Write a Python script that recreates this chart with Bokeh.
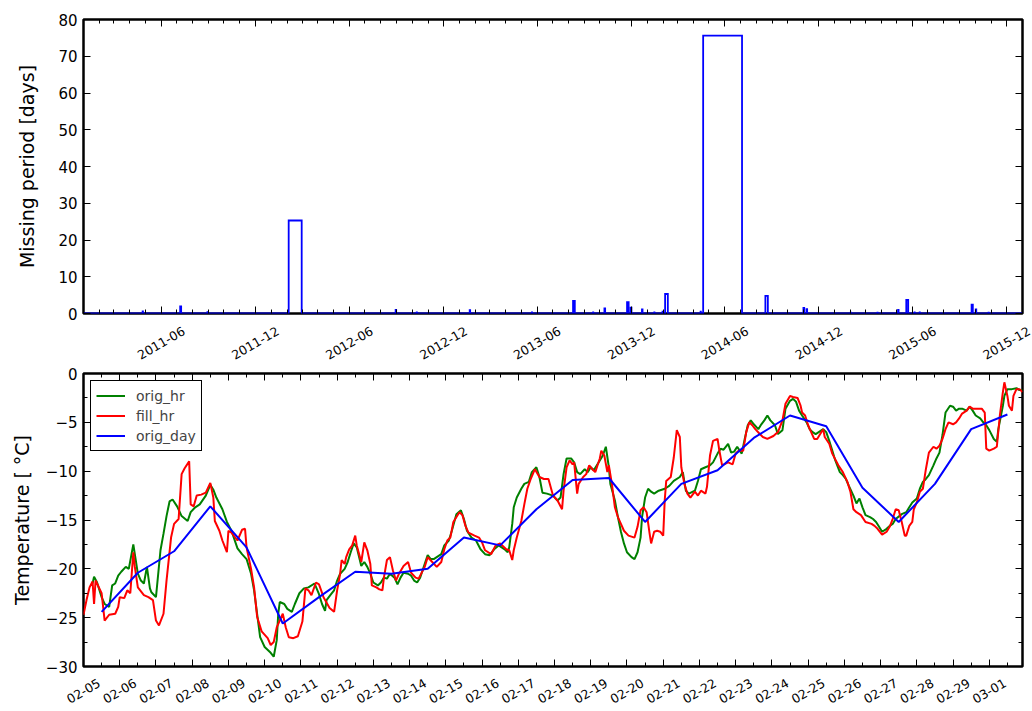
import pandas as pd
from bokeh.plotting import figure
from bokeh.models import (Range1d, FixedTicker, LinearAxis, Legend, LegendItem)
from bokeh.core.properties import value
from bokeh.layouts import column
from bokeh.embed import file_html
from bokeh.resources import INLINE

FONT = "DejaVu Sans"

# ---------------- top panel: missing periods ----------------
top_x_start, top_x_end = "2011-01-01", "2016-01-01"
gap_start = ["2011-04-26", "2011-07-08", "2011-08-30", "2012-02-04", "2012-08-30",
             "2012-10-10", "2013-01-21", "2013-05-22", "2013-08-10", "2013-09-18",
             "2013-10-10", "2013-11-23", "2013-11-30", "2013-12-22", "2014-01-15",
             "2014-01-31", "2014-02-05", "2014-04-15", "2014-04-20", "2014-08-19",
             "2014-11-01", "2014-11-07", "2015-02-01", "2015-03-25", "2015-05-04",
             "2015-05-20", "2015-06-05", "2015-06-15", "2015-09-24", "2015-10-02",
             "2015-10-27"]
gap_days = [0.6, 1.9, 0.4, 25.3, 1.0, 0.3, 0.9, 0.3, 3.4, 0.3, 1.4, 3.1, 1.6, 1.1, 0.3,
            0.5, 5.3, 0.5, 75.6, 4.8, 1.5, 1.2, 0.2, 0.2, 1.0, 3.7, 0.3, 0.3, 2.4, 1.1, 0.2]
top_tick_labels = ["2011-06", "2011-12", "2012-06", "2012-12", "2013-06",
                   "2013-12", "2014-06", "2014-12", "2015-06", "2015-12"]
top_y_ticks = [0, 10, 20, 30, 40, 50, 60, 70, 80]

# ---------------- bottom panel: temperature ----------------
year = "2016"
t0 = "2016-02-05 00:00"
orig_hr_hours = [6, 7, 9, 12, 14, 17, 19, 21, 23, 25, 28, 30, 33, 34, 36, 38, 40, 42, 44, 45, 48,
                 51, 53, 55, 57, 59, 62, 65, 69, 71, 74, 77, 81, 84, 86, 88, 92, 95, 98, 102, 105,
                 108, 111, 113, 115, 117, 120, 124, 126, 128, 129, 130, 133, 135, 138, 140, 143,
                 146, 149, 153, 156, 158, 160, 161, 164, 166, 168, 170, 173, 175, 177, 179, 181,
                 184, 186, 188, 190, 192, 195, 197, 199, 201, 203, 206, 208, 210, 212, 215, 217,
                 219, 221, 223, 226, 228, 230, 232, 234, 237, 239, 242, 244, 247, 250, 252, 254,
                 257, 260, 263, 266, 269, 272, 275, 279, 281, 282, 284, 285, 287, 290, 292, 295,
                 297, 300, 302, 304, 307, 311, 314, 316, 318, 320, 323, 325, 327, 329, 332, 334,
                 336, 338, 342, 344, 346, 348, 349, 352, 354, 356, 358, 360, 363, 365, 367, 369,
                 370, 372, 374, 376, 378, 381, 385, 388, 391, 395, 397, 399, 401, 405, 407, 409,
                 412, 415, 417, 420, 422, 424, 427, 429, 431, 433, 436, 438, 440, 442, 444, 447,
                 449, 451, 453, 455, 458, 460, 463, 465, 468, 470, 472, 474, 476, 479, 481, 483,
                 485, 487, 490, 492, 494, 496, 498, 501, 503, 505, 507, 510, 512, 514, 516, 518,
                 521, 523, 525, 527, 529, 532, 534, 536, 538, 542, 545, 547, 549, 552, 554, 556,
                 558, 560, 563, 565, 567, 569, 571, 574, 576, 578, 580, 582, 585, 587, 589, 591,
                 594, 596, 598, 600, 603, 605, 606, 609, 610, 612, 615, 618, 620, 622]
orig_hr_temp = [-21.5, -20.8, -21.4, -22.9, -23.6, -23.9, -21.7, -21.5, -20.7, -20.3, -19.8, -20.0,
                -17.5, -18.5, -20.5, -21.2, -21.5, -19.8, -22.0, -22.4, -22.9, -18.1, -16.4, -14.6,
                -13.1, -12.9, -13.6, -14.6, -15.1, -14.2, -13.7, -13.4, -12.5, -11.4, -11.9, -12.7,
                -13.9, -15.2, -16.1, -17.9, -18.5, -19.0, -20.5, -22.2, -24.6, -27.0, -28.0, -28.6,
                -29.0, -27.3, -24.6, -23.4, -23.6, -24.1, -24.4, -23.6, -22.5, -22.0, -21.9, -21.5,
                -22.6, -23.6, -24.3, -23.2, -22.6, -22.2, -21.2, -20.5, -20.0, -19.3, -18.3, -17.4,
                -17.8, -19.7, -19.3, -19.8, -20.5, -21.4, -21.7, -21.4, -20.9, -21.0, -20.5, -20.9,
                -21.6, -20.9, -20.4, -20.5, -20.7, -21.2, -21.4, -20.9, -19.5, -18.6, -19.0, -19.0,
                -18.8, -18.5, -17.6, -17.1, -16.1, -14.4, -14.0, -14.9, -16.1, -16.8, -17.1, -18.0,
                -18.5, -18.6, -18.0, -17.6, -18.0, -18.3, -17.8, -15.4, -13.7, -12.7, -11.8, -11.3,
                -11.1, -10.1, -9.6, -10.6, -12.2, -12.3, -12.5, -13.0, -12.7, -10.3, -8.7, -8.7,
                -9.1, -10.1, -10.3, -9.8, -10.1, -9.6, -9.9, -8.9, -8.4, -7.5, -9.6, -11.3, -13.0,
                -14.7, -16.2, -17.4, -18.3, -18.8, -19.0, -18.3, -16.8, -14.7, -12.7, -11.8, -12.1,
                -12.3, -12.0, -11.8, -11.5, -11.0, -10.6, -10.1, -12.0, -12.3, -12.0, -11.0, -9.8,
                -9.6, -9.4, -9.1, -8.2, -7.7, -7.8, -7.2, -8.1, -8.0, -7.5, -8.2, -6.7, -5.3, -4.8,
                -5.2, -5.7, -5.2, -4.8, -4.3, -4.8, -5.3, -6.2, -5.8, -3.6, -2.8, -2.6, -2.9, -3.8,
                -4.3, -5.0, -5.7, -6.0, -6.2, -6.0, -5.7, -6.0, -6.9, -7.9, -8.9, -10.1, -10.4,
                -10.8, -11.5, -12.5, -13.3, -12.8, -13.7, -14.5, -14.7, -14.9, -15.2, -15.7, -16.2,
                -15.9, -15.6, -15.4, -14.9, -14.4, -14.2, -13.7, -13.2, -12.8, -11.8, -11.1, -10.8,
                -10.4, -9.4, -8.7, -8.1, -6.3, -4.0, -3.3, -3.4, -3.8, -3.6, -3.6, -3.8, -3.4, -3.8,
                -4.3, -4.6, -5.0, -5.3, -5.8, -6.7, -7.0, -5.7, -3.3, -2.3, -1.6, -1.6, -1.5, -1.7,
                -1.7]
fill_hr_hours = [0, 2, 4, 6, 7, 8, 12, 14, 17, 21, 23, 24, 27, 29, 31, 33, 34, 36, 40, 43, 46, 48,
                 50, 53, 55, 58, 60, 63, 65, 67, 70, 71, 73, 75, 78, 81, 84, 86, 87, 90, 92, 95, 96,
                 98, 102, 105, 107, 108, 111, 113, 115, 118, 122, 124, 126, 128, 132, 134, 136, 139,
                 142, 145, 147, 149, 151, 154, 156, 159, 163, 166, 168, 170, 171, 173, 174, 176,
                 178, 180, 181, 184, 186, 188, 190, 191, 194, 196, 198, 199, 201, 203, 205, 207,
                 209, 212, 215, 217, 220, 222, 226, 228, 231, 234, 237, 239, 241, 243, 245, 249,
                 251, 253, 255, 259, 262, 264, 266, 270, 273, 276, 280, 282, 284, 285, 287, 290,
                 292, 294, 296, 299, 302, 305, 308, 311, 314, 317, 318, 320, 322, 324, 325, 327,
                 328, 331, 333, 335, 337, 339, 342, 343, 345, 347, 348, 350, 352, 354, 356, 358,
                 361, 365, 367, 369, 371, 373, 375, 376, 378, 380, 382, 384, 385, 386, 389, 391,
                 393, 395, 396, 398, 400, 402, 405, 407, 409, 412, 413, 415, 417, 420, 421, 423,
                 427, 430, 432, 434, 437, 439, 441, 443, 445, 448, 450, 453, 457, 460, 463, 465,
                 468, 470, 473, 475, 476, 478, 480, 482, 484, 486, 488, 490, 491, 494, 496, 500,
                 503, 506, 508, 510, 512, 515, 518, 522, 524, 526, 529, 532, 534, 536, 538, 540,
                 542, 544, 545, 547, 549, 550, 552, 554, 556, 558, 560, 563, 565, 567, 569, 571,
                 573, 576, 578, 580, 582, 585, 587, 589, 592, 595, 597, 598, 600, 603, 605, 607,
                 609, 610, 612, 613, 615, 616, 618, 620, 622]
fill_hr_temp = [-24.7, -23.2, -21.9, -21.3, -23.6, -21.2, -22.5, -25.3, -24.7, -24.6, -23.9, -22.9,
                -23.0, -22.2, -22.5, -18.3, -19.8, -21.9, -22.7, -22.9, -23.2, -25.3, -25.8, -24.6,
                -21.2, -16.8, -15.4, -14.9, -10.3, -9.7, -9.0, -13.4, -13.6, -12.5, -12.4, -12.2,
                -11.2, -12.7, -15.1, -16.1, -17.1, -18.3, -16.1, -16.3, -17.1, -16.0, -15.9, -17.8,
                -20.0, -21.9, -24.9, -26.4, -27.1, -27.8, -27.5, -26.0, -24.6, -26.0, -27.0, -27.1,
                -26.9, -25.4, -22.0, -22.2, -22.7, -21.4, -21.6, -22.9, -24.0, -24.4, -22.2, -20.5,
                -19.1, -19.5, -18.8, -18.0, -17.6, -16.6, -17.6, -19.3, -17.3, -18.1, -19.5, -21.7,
                -21.9, -22.1, -22.2, -20.9, -19.1, -18.8, -20.2, -21.2, -20.5, -19.7, -19.3, -20.4,
                -20.9, -21.0, -19.8, -18.8, -19.3, -19.8, -19.3, -18.0, -17.1, -16.8, -15.2, -14.2,
                -14.5, -15.6, -16.3, -16.6, -16.8, -17.3, -18.1, -18.5, -17.6, -17.4, -18.0, -18.1,
                -19.1, -18.1, -16.8, -15.1, -13.4, -11.8, -10.9, -9.8, -10.6, -10.8, -10.8, -12.5,
                -13.0, -13.9, -12.0, -9.6, -8.9, -9.3, -9.1, -12.3, -11.3, -10.6, -10.3, -9.4, -9.8,
                -10.1, -8.7, -7.9, -8.4, -10.1, -9.4, -11.3, -13.7, -14.7, -15.4, -16.1, -16.6,
                -16.8, -15.7, -14.0, -13.7, -14.2, -16.4, -17.4, -16.2, -16.1, -16.2, -16.6, -13.0,
                -11.0, -10.6, -8.6, -5.8, -6.5, -9.6, -11.3, -12.3, -12.7, -12.1, -12.5, -12.0,
                -12.3, -11.6, -8.4, -6.9, -6.7, -7.7, -9.4, -9.1, -9.3, -8.2, -7.9, -7.9, -6.0,
                -5.0, -5.3, -5.7, -6.2, -6.5, -6.7, -6.4, -6.0, -4.8, -3.1, -2.3, -2.4, -2.5, -3.3,
                -4.0, -4.3, -5.3, -6.0, -6.7, -6.7, -6.2, -5.7, -6.5, -7.2, -8.2, -9.4, -10.1,
                -11.1, -12.1, -13.9, -14.2, -14.5, -15.2, -15.4, -15.6, -15.9, -16.5, -16.2, -15.7,
                -14.9, -13.9, -14.0, -15.2, -16.6, -16.6, -15.6, -15.2, -13.9, -13.2, -12.1, -11.8,
                -9.8, -8.1, -7.5, -7.7, -7.4, -6.7, -5.7, -5.0, -5.2, -5.0, -4.6, -4.1, -3.8, -3.4,
                -3.6, -3.6, -3.6, -4.0, -7.7, -7.9, -7.7, -7.5, -4.3, -1.9, -0.9, -2.3, -3.3, -3.8,
                -2.3, -1.6, -1.6, -1.9]
day_labels = ["02-05", "02-06", "02-07", "02-08", "02-09", "02-10", "02-11", "02-12", "02-13",
              "02-14", "02-15", "02-16", "02-17", "02-18", "02-19", "02-20", "02-21", "02-22",
              "02-23", "02-24", "02-25", "02-26", "02-27", "02-28", "02-29", "03-01"]
orig_day_temp = [-24.4, -20.4, -18.2, -13.6, -17.8, -25.6, -22.9, -20.3, -20.5, -20.0, -16.8,
                 -17.6, -13.9, -10.9, -10.7, -15.2, -11.3, -9.9, -6.6, -4.3, -5.4, -11.7, -15.2,
                 -11.3, -5.7, -4.2]
bot_y_ticks = [-30, -25, -20, -15, -10, -5, 0]

# ---------------- layout constants (pixels) ----------------
W = 1032
LEFT, RIGHT = 83, 10
FRAME_W = W - LEFT - RIGHT


def ms(ts):
    return pd.Timestamp(ts).value / 1e6


def style_axis(ax, ticker, labels=True, size="15px"):
    ax.ticker = ticker
    ax.axis_line_color = None
    ax.major_tick_in = 7
    ax.major_tick_out = 0
    ax.minor_tick_in = 4
    ax.minor_tick_out = 0
    ax.major_tick_line_color = "black"
    ax.minor_tick_line_color = "black"
    ax.major_tick_line_width = 1
    ax.minor_tick_line_width = 1
    ax.axis_label_text_font = FONT
    ax.axis_label_text_font_size = "19px"
    ax.axis_label_text_font_style = "normal"
    ax.axis_label_text_color = "black"
    if labels:
        ax.major_label_text_font = FONT
        ax.major_label_text_font_size = size
        ax.major_label_text_color = "black"
        ax.major_label_standoff = 6
    else:
        ax.major_label_text_font_size = "0px"
        ax.major_label_text_alpha = 0
        ax.major_label_standoff = 0


def style_fig(p):
    p.grid.visible = False
    p.outline_line_color = "black"
    p.outline_line_width = 2.5
    p.outline_line_alpha = 1
    p.background_fill_color = "white"
    p.border_fill_color = "white"


def label_strip(x_start, x_end, ticks, texts, height, center_from_top, size):
    """A borderless strip under a chart that carries its rotated, centred tick labels."""
    upp = (x_end - x_start) / FRAME_W
    s = figure(width=W, height=height, output_backend="svg", toolbar_location=None,
               x_range=Range1d(x_start - LEFT * upp, x_start + (W - LEFT) * upp),
               y_range=Range1d(-height, 0), x_axis_location=None, y_axis_location=None,
               min_border=0)
    if "frame_align" in s.properties():
        s.frame_align = False
    s.grid.visible = False
    s.outline_line_color = None
    s.background_fill_color = "white"
    s.border_fill_color = "white"
    s.text(x=ticks, y=[-center_from_top] * len(ticks), text=texts, angle=30,
           angle_units="deg", text_align="center", text_baseline="middle",
           text_font=value(FONT), text_font_size=value(size), text_color="black")
    return s


# ===================== top figure =====================
x1s, x1e = ms(top_x_start), ms(top_x_end)
p1 = figure(width=W, height=323, output_backend="svg", toolbar_location=None,
            x_axis_type="datetime",
            x_range=Range1d(x1s, x1e), y_range=Range1d(0, 80),
            min_border_left=LEFT, min_border_right=RIGHT, min_border_top=19,
            min_border_bottom=10)
style_fig(p1)

xs = [x1s]
ys = [0]
for s, d in zip(gap_start, gap_days):
    st = pd.Timestamp(s)
    en = st + pd.Timedelta(days=d)
    xs += [ms(st), ms(st), ms(en), ms(en)]
    ys += [0, d, d, 0]
xs.append(x1e)
ys.append(0)
p1.line(xs, ys, line_color="blue", line_width=1.8, line_join="miter")

top_major = [ms(t + "-01") for t in top_tick_labels]
top_minor = [ms(t) for t in pd.date_range(top_x_start, top_x_end, freq="MS")
             if ms(t) not in top_major]
tx1 = FixedTicker(ticks=top_major, minor_ticks=top_minor)
ty1 = FixedTicker(ticks=top_y_ticks, minor_ticks=[])
p1.add_layout(LinearAxis(), "above")
p1.add_layout(LinearAxis(), "right")
for ax in p1.below + p1.above:
    style_axis(ax, tx1, labels=False)
style_axis(p1.left[0], ty1, labels=True)
style_axis(p1.right[0], ty1, labels=False)
p1.left[0].axis_label = "Missing period [days]"
p1.left[0].axis_label_standoff = 17

strip1 = label_strip(x1s, x1e, top_major, top_tick_labels, 43, 19.5, "12.5px")

# ===================== bottom figure =====================
start = pd.Timestamp(t0)
orig_x = [ms(start + pd.Timedelta(hours=h)) for h in orig_hr_hours]
fill_x = [ms(start + pd.Timedelta(hours=h)) for h in fill_hr_hours]
day_x = [ms(pd.Timestamp(year + "-" + d) + pd.Timedelta(hours=12)) for d in day_labels]
x2s, x2e = ms(start), ms(start + pd.Timedelta(hours=max(fill_hr_hours)))

p2 = figure(width=W, height=310, output_backend="svg", toolbar_location=None,
            x_axis_type="datetime",
            x_range=Range1d(x2s, x2e), y_range=Range1d(-30, 0),
            min_border_left=LEFT, min_border_right=RIGHT, min_border_top=7,
            min_border_bottom=10)
style_fig(p2)
r_orig = p2.line(orig_x, orig_hr_temp, line_color="green", line_width=2)
r_fill = p2.line(fill_x, fill_hr_temp, line_color="red", line_width=2)
r_day = p2.line(day_x, orig_day_temp, line_color="blue", line_width=2)

bot_major = [ms(year + "-" + d) for d in day_labels]
bot_minor = [v + 12 * 3600 * 1000 for v in bot_major]
tx2 = FixedTicker(ticks=bot_major, minor_ticks=bot_minor)
ty2 = FixedTicker(ticks=bot_y_ticks, minor_ticks=[t + 2.5 for t in bot_y_ticks[:-1]])
p2.add_layout(LinearAxis(), "above")
p2.add_layout(LinearAxis(), "right")
for ax in p2.below + p2.above:
    style_axis(ax, tx2, labels=False)
style_axis(p2.left[0], ty2, labels=True)
p2.left[0].major_label_overrides = {float(t): ("\u2212" + str(abs(t)) if t < 0 else str(t))
                                    for t in bot_y_ticks}
p2.left[0].axis_label = "Temperature [ \u00b0C]"
p2.left[0].axis_label_standoff = 10
style_axis(p2.right[0], ty2, labels=False)

legend = Legend(items=[LegendItem(label="orig_hr", renderers=[r_orig]),
                       LegendItem(label="fill_hr", renderers=[r_fill]),
                       LegendItem(label="orig_day", renderers=[r_day])],
                location="top_left", margin=7, padding=5, spacing=1,
                glyph_width=29, glyph_height=19, label_height=19, label_standoff=11,
                label_text_font=FONT, label_text_font_size="14px",
                border_line_color="black", border_line_width=1, border_line_alpha=1,
                background_fill_color="white", background_fill_alpha=1)
p2.add_layout(legend)

strip2 = label_strip(x2s, x2e, bot_major, day_labels, 35, 14.5, "12.5px")

layout = column(p1, strip1, p2, strip2, spacing=0)
open("out.html", "w").write(file_html(layout, INLINE))
